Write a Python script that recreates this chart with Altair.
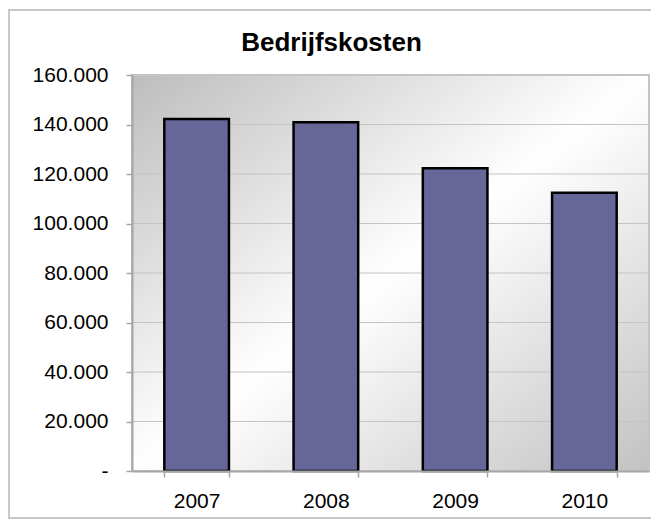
import altair as alt
import pandas as pd

# ---- data ----
years = ["2007", "2008", "2009", "2010"]
costs = [142200, 140900, 122300, 112400]
y_ticks = [0, 20000, 40000, 60000, 80000, 100000, 120000, 140000, 160000]
title_text = "Bedrijfskosten"

df = pd.DataFrame({"jaar": years, "kosten": costs})
grid_df = pd.DataFrame({"v": y_ticks[1:]})

W, H = 517, 396
FONT = "Liberation Sans"

x_scale = alt.Scale(domain=years, paddingInner=0.5, paddingOuter=0.25)
y_scale = alt.Scale(domain=[0, 160000], nice=False)

y_axis = alt.Axis(title=None, values=y_ticks, grid=False,
                  labelExpr="datum.value == 0 ? '-' : replace(format(datum.value, ',d'), ',', '.')",
                  domainColor="#a6a6a6", domainWidth=2, tickColor="#a6a6a6",
                  tickSize=6, tickWidth=1.5, labelFont=FONT, labelFontSize=21,
                  labelColor="black", labelPadding=18, zindex=1)

one = alt.Data(values=[{}])

# outer chart frame
frame = alt.Chart(one).mark_rect(fill="white", stroke="#c8c8c8", strokeWidth=2).encode(
    x=alt.value(-123), x2=alt.value(W + 14), y=alt.value(-65), y2=alt.value(H + 47)
)

# plot-area gradient background
bg = alt.Chart(one).mark_rect(
    fill=alt.Gradient(
        gradient="linear", x1=0, y1=0, x2=1, y2=1,
        stops=[
            alt.GradientStop(offset=0, color="#bdbdbd"),
            alt.GradientStop(offset=0.5, color="#ffffff"),
            alt.GradientStop(offset=1, color="#c2c2c2"),
        ],
    ),
    stroke="#c4c4c4", strokeWidth=2,
).encode(x=alt.value(0), x2=alt.value(W), y=alt.value(0), y2=alt.value(H))

# horizontal gridlines
grid = alt.Chart(grid_df).mark_rule(color="#c4c4c4", strokeWidth=1.2).encode(
    y=alt.Y("v:Q", scale=y_scale, axis=y_axis),
    x=alt.value(0), x2=alt.value(W),
)

bars = alt.Chart(df).mark_bar(color="#666699", stroke="black", strokeWidth=2.5).encode(
    x=alt.X("jaar:N", scale=x_scale, sort=years,
            axis=alt.Axis(title=None, labelAngle=0, tickBand="extent", grid=False,
                          domainColor="#a6a6a6", domainWidth=2, tickColor="#a6a6a6",
                          tickSize=6, tickWidth=1.5, labelFont=FONT, labelFontSize=21,
                          labelColor="black", labelPadding=13, zindex=1)),
    y=alt.Y("kosten:Q", scale=y_scale, axis=y_axis),
)

title = alt.Chart(one).mark_text(
    text=title_text, font=FONT, fontSize=26, fontWeight="bold", color="black",
    align="center", baseline="alphabetic",
).encode(x=alt.value(331.5 - 132), y=alt.value(50.7 - 75))

chart = alt.layer(frame, bg, grid, bars, title).properties(
    width=W, height=H,
    padding={"left": 124, "top": 67, "right": 2, "bottom": 49},
    autosize=alt.AutoSizeParams(type="none"),
).configure_view(strokeWidth=0).configure(background="white")

chart.save("out.html", embed_options={"renderer": "svg", "actions": False})
